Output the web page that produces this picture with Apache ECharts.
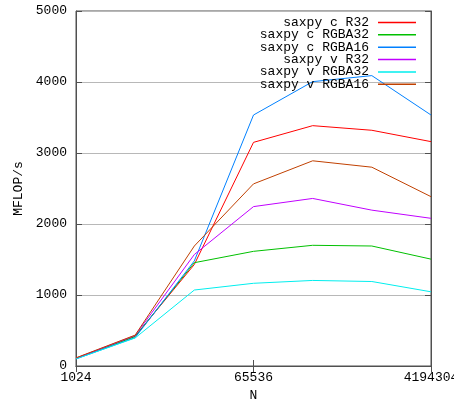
<!DOCTYPE html>
<html>
<head>
<meta charset="utf-8">
<script src="https://cdn.jsdelivr.net/npm/echarts@6/dist/echarts.min.js"></script>
<style>html,body{margin:0;padding:0;background:#fff}#c{width:454px;height:403px}</style>
</head>
<body>
<div id="c"></div>
<script>
var categories = ['1024', '4096', '16384', '65536', '262144', '1048576', '4194304'];
var seriesNames = ['saxpy c R32', 'saxpy c RGBA32', 'saxpy c RGBA16', 'saxpy v R32', 'saxpy v RGBA32', 'saxpy v RGBA16'];
var cR32 = [110, 420, 1430, 3150, 3385, 3320, 3160];
var cRGBA32 = [105, 415, 1455, 1615, 1700, 1690, 1505];
var cRGBA16 = [100, 400, 1480, 3535, 4005, 4090, 3535];
var vR32 = [110, 430, 1570, 2245, 2360, 2195, 2080];
var vRGBA32 = [100, 395, 1070, 1165, 1205, 1190, 1045];
var vRGBA16 = [115, 435, 1690, 2565, 2890, 2800, 2385];
var yTicks = [0, 1000, 2000, 3000, 4000, 5000];
var colors = ['#ff0000', '#00c000', '#0080ff', '#c000ff', '#00eeee', '#c04000'];

var seriesData = [cR32, cRGBA32, cRGBA16, vR32, vRGBA32, vRGBA16];
var FONT = 'Liberation Mono';
var FS = 13;

var legends = seriesNames.map(function (name, i) {
  return {
    data: [name],
    right: 38,
    top: 16 + 12.35 * i,
    orient: 'vertical',
    align: 'right',
    icon: 'rect',
    itemWidth: 38,
    itemHeight: 1.5,
    padding: 0,
    textStyle: { fontFamily: FONT, fontSize: FS, color: '#000', lineHeight: 13, padding: [0, 4, 0, 0] },
    itemStyle: { color: colors[i] },
    lineStyle: { width: 1 }
  };
});

var chart = echarts.init(document.getElementById('c'), null, { renderer: 'canvas' });
chart.setOption({
  animation: false,
  color: colors,
  legend: legends,
  grid: { left: 76, right: 23, top: 11, bottom: 37, show: true, borderColor: '#505050', borderWidth: 1, containLabel: false, outerBoundsMode: 'none' },
  xAxis: [{
    type: 'category',
    data: categories,
    boundaryGap: false,
    name: 'N',
    nameLocation: 'middle',
    nameGap: 22,
    nameTextStyle: { fontFamily: FONT, fontSize: FS, color: '#000' },
    axisLine: { show: true, lineStyle: { color: '#505050', width: 1 } },
    axisTick: { show: true, inside: true, length: 6, interval: 2, lineStyle: { color: '#505050' } },
    axisLabel: { interval: 2, margin: 5, fontFamily: FONT, fontSize: FS, color: '#000', hideOverlap: false },
    splitLine: { show: false }
  }, {
    type: 'category',
    data: categories,
    boundaryGap: false,
    position: 'top',
    axisLine: { show: true, lineStyle: { color: '#505050', width: 1 } },
    axisTick: { show: true, inside: true, length: 6, interval: 2, lineStyle: { color: '#505050' } },
    axisLabel: { show: false },
    splitLine: { show: false }
  }],
  yAxis: [{
    type: 'value',
    min: yTicks[0],
    max: yTicks[yTicks.length - 1],
    interval: 1000,
    name: 'MFLOP/s',
    nameLocation: 'middle',
    nameGap: 37,
    nameRotate: 90,
    nameTextStyle: { fontFamily: FONT, fontSize: FS, color: '#000' },
    axisLine: { show: true, lineStyle: { color: '#505050', width: 1 } },
    axisTick: { show: true, inside: true, length: 6, lineStyle: { color: '#505050' } },
    axisLabel: { margin: 9, fontFamily: FONT, fontSize: FS, color: '#000', formatter: function (v) { return String(v); } },
    splitLine: { show: true, lineStyle: { color: '#b8b8b8', width: 1 } }
  }, {
    type: 'value',
    min: yTicks[0],
    max: yTicks[yTicks.length - 1],
    interval: 1000,
    position: 'right',
    axisLine: { show: true, lineStyle: { color: '#505050', width: 1 } },
    axisTick: { show: true, inside: true, length: 6, lineStyle: { color: '#505050' } },
    axisLabel: { show: false },
    splitLine: { show: false }
  }],
  series: seriesNames.map(function (name, i) {
    return {
      name: name,
      type: 'line',
      data: seriesData[i],
      symbol: 'none',
      lineStyle: { width: 1, color: colors[i] },
      itemStyle: { color: colors[i] },
      xAxisIndex: 0,
      yAxisIndex: 0
    };
  })
});
</script>
</body>
</html>
